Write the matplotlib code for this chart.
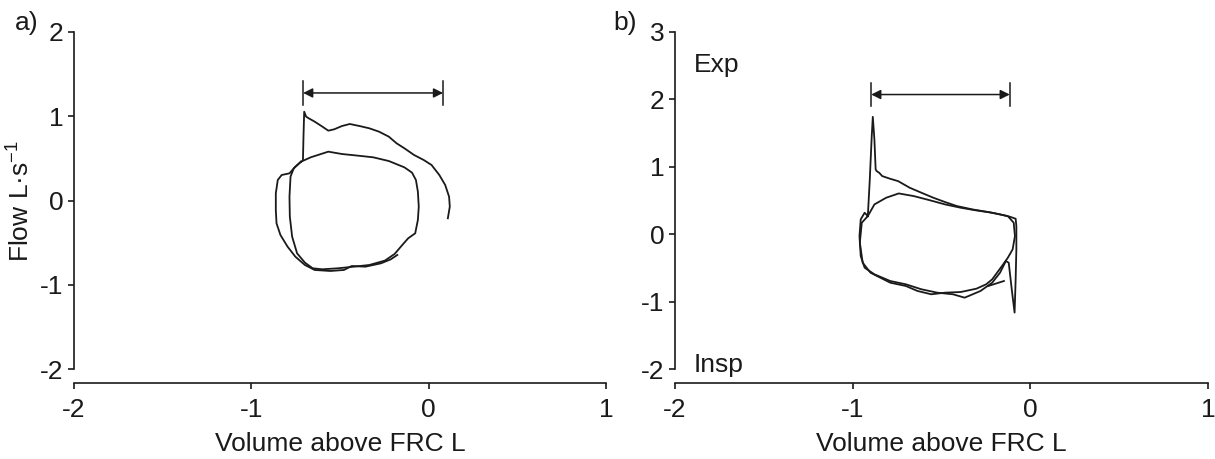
import matplotlib.pyplot as plt
from matplotlib import font_manager

_names = {f.name for f in font_manager.fontManager.ttflist}
if 'Liberation Sans Narrow' in _names:
    plt.rcParams['font.family'] = ['Liberation Sans Narrow', 'DejaVu Sans']
    FS = 20
else:
    plt.rcParams['font.family'] = ['Liberation Sans', 'DejaVu Sans']
    FS = 19
plt.rcParams['axes.unicode_minus'] = False

# panel a) traces (volume L, flow L/s)
a_exp_vol = [-0.709, -0.706, -0.702, -0.691, -0.676, -0.643, -0.599, -0.566, -0.533, -0.489,
             -0.445, -0.390, -0.335, -0.280, -0.225, -0.181, -0.137, -0.083, -0.028, 0.016,
             0.060, 0.093, 0.115, 0.119, 0.108]
a_exp_flow = [0.482, 0.759, 1.055, 0.996, 0.976, 0.937, 0.877, 0.830, 0.846, 0.885,
              0.909, 0.885, 0.858, 0.818, 0.759, 0.680, 0.621, 0.542, 0.482, 0.423,
              0.304, 0.186, 0.047, -0.071, -0.209]

a_loop1_vol = [-0.720, -0.665, -0.566, -0.489, -0.401, -0.313, -0.225, -0.137, -0.094, -0.072,
               -0.061, -0.056, -0.061, -0.076, -0.116, -0.149, -0.192, -0.247, -0.335, -0.423,
               -0.511, -0.599, -0.654, -0.698, -0.742, -0.770, -0.783, -0.785, -0.779, -0.761, -0.720]
a_loop1_flow = [0.462, 0.514, 0.581, 0.553, 0.534, 0.514, 0.470, 0.395, 0.332, 0.245,
                0.107, -0.071, -0.229, -0.387, -0.447, -0.526, -0.632, -0.711, -0.763, -0.783,
                -0.802, -0.814, -0.802, -0.735, -0.625, -0.427, -0.190, 0.047, 0.285, 0.383, 0.462]

a_loop2_vol = [-0.720, -0.752, -0.785, -0.829, -0.851, -0.862, -0.862, -0.858, -0.836, -0.796,
               -0.752, -0.698, -0.643, -0.555, -0.478, -0.434, -0.357, -0.269, -0.214, -0.177]
a_loop2_flow = [0.462, 0.403, 0.324, 0.304, 0.245, 0.087, -0.111, -0.269, -0.407, -0.545,
                -0.664, -0.763, -0.822, -0.834, -0.822, -0.775, -0.783, -0.743, -0.696, -0.644]

a_arrow = (-0.708, 0.081, 1.277)

# panel b) traces
b_exp_vol = [-0.915, -0.904, -0.893, -0.887, -0.878, -0.871, -0.865, -0.851, -0.834, -0.789,
             -0.745, -0.679, -0.613, -0.546, -0.480, -0.414, -0.326, -0.237, -0.171, -0.116,
             -0.083, -0.079, -0.079, -0.083, -0.089, -0.105, -0.122, -0.138, -0.171, -0.215,
             -0.281, -0.370, -0.436, -0.524, -0.613, -0.701, -0.789, -0.878, -0.933, -0.955,
             -0.962, -0.955, -0.933, -0.915]
b_exp_flow = [0.271, 0.814, 1.456, 1.742, 1.407, 0.962, 0.938, 0.913, 0.864, 0.824,
              0.790, 0.691, 0.617, 0.543, 0.479, 0.420, 0.370, 0.331, 0.296, 0.262,
              0.232, 0.123, -0.222, -0.666, -1.160, -0.814, -0.420, -0.395, -0.568, -0.716,
              -0.839, -0.938, -0.888, -0.864, -0.814, -0.740, -0.691, -0.592, -0.494, -0.321,
              -0.025, 0.222, 0.321, 0.271]

b_loop_vol = [-0.915, -0.878, -0.812, -0.741, -0.657, -0.569, -0.480, -0.392, -0.304, -0.215,
              -0.127, -0.094, -0.087, -0.100, -0.127, -0.160, -0.215, -0.249, -0.304, -0.392,
              -0.480, -0.558, -0.635, -0.701, -0.789, -0.900, -0.944, -0.960, -0.949, -0.915]
b_loop_flow = [0.271, 0.444, 0.543, 0.607, 0.568, 0.508, 0.444, 0.395, 0.355, 0.321,
               0.271, 0.173, -0.025, -0.222, -0.346, -0.469, -0.666, -0.740, -0.805, -0.854,
               -0.864, -0.888, -0.839, -0.765, -0.716, -0.568, -0.420, -0.123, 0.173, 0.271]

b_tail_vol = [-0.237, -0.149]
b_tail_flow = [-0.765, -0.691]

b_arrow = (-0.896, -0.116, 2.073)

LINE = '#1a1a1a'


def style_axes(ax, ylim, yticks):
    ax.set_xlim(-2, 1)
    ax.set_ylim(*ylim)
    ax.set_xticks([-2, -1, 0, 1])
    ax.set_yticks(yticks)
    ax.spines['top'].set_visible(False)
    ax.spines['right'].set_visible(False)
    ax.spines['bottom'].set_position(('outward', 10))
    for s in ('left', 'bottom'):
        ax.spines[s].set_linewidth(1.2)
        ax.spines[s].set_color(LINE)
    ax.tick_params(direction='out', length=4.5, width=1.2, colors=LINE, labelsize=FS)
    ax.tick_params(axis='x', pad=6)
    ax.tick_params(axis='y', pad=3)
    ax.set_xlabel('Volume above FRC L', fontsize=FS, color=LINE, labelpad=7)


def draw_arrow(ax, arrow, half):
    x0, x1, y = arrow
    ax.annotate('', xy=(x0, y), xytext=(x1, y),
                arrowprops=dict(arrowstyle='<|-|>', color=LINE, lw=1.1,
                                mutation_scale=14, shrinkA=0, shrinkB=0))
    ax.plot([x0, x0], [y - half, y + half], color=LINE, lw=1.1)
    ax.plot([x1, x1], [y - half, y + half], color=LINE, lw=1.1)


fig = plt.figure(figsize=(12.15, 4.59), dpi=100)
ax1 = fig.add_axes([0.0609, 0.1954, 0.4379, 0.7349])
ax2 = fig.add_axes([0.5556, 0.1954, 0.4387, 0.7349])

# panel a
style_axes(ax1, (-2, 2), [-2, -1, 0, 1, 2])
for xs, ys in [(a_exp_vol, a_exp_flow), (a_loop1_vol, a_loop1_flow), (a_loop2_vol, a_loop2_flow)]:
    ax1.plot(xs, ys, color=LINE, lw=1.3)
draw_arrow(ax1, a_arrow, 0.14)
ax1.set_ylabel('Flow L·s$^{\\mathregular{-1}}$', fontsize=FS, color=LINE, labelpad=5)
fig.text(0.012, 0.95, 'a)', fontsize=FS, color=LINE, va='center')

# panel b
style_axes(ax2, (-2, 3), [-2, -1, 0, 1, 2, 3])
for xs, ys in [(b_exp_vol, b_exp_flow), (b_loop_vol, b_loop_flow), (b_tail_vol, b_tail_flow)]:
    ax2.plot(xs, ys, color=LINE, lw=1.3)
draw_arrow(ax2, b_arrow, 0.17)
ax2.text(-1.894, 2.41, 'Exp', fontsize=FS, color=LINE, va='baseline', ha='left')
ax2.text(-1.894, -2.035, 'Insp', fontsize=FS, color=LINE, va='baseline', ha='left')
fig.text(0.505, 0.95, 'b)', fontsize=FS, color=LINE, va='center')

fig.savefig('out.png', dpi=100)
